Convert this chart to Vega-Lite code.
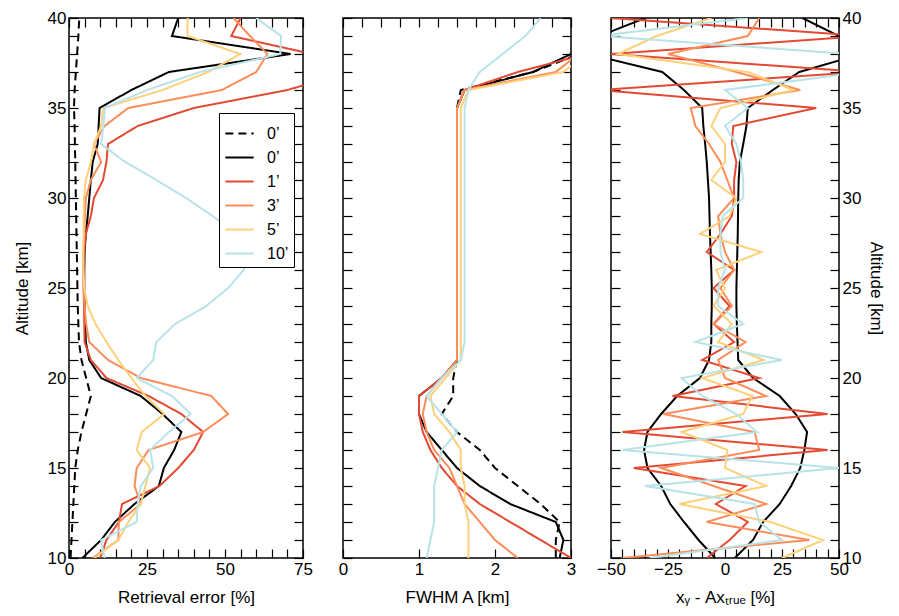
{
  "$schema": "https://vega.github.io/schema/vega-lite/v6.json",
  "padding": {"left": 12, "top": 8, "right": 2, "bottom": 2},
  "spacing": 40,
  "bounds": "flush",
  "datasets": {
    "p1": [
      {"a":10,"d":0.5,"k":4.3,"r":10,"o":7.6,"y":8.2,"b":11.4},
      {"a":11,"d":0.8,"k":10.3,"r":12,"o":15.8,"y":15.8,"b":10.3},
      {"a":12,"d":1.1,"k":14.7,"r":16,"o":16,"y":19,"b":21.7},
      {"a":13,"d":1.4,"k":21,"r":17,"o":23,"y":23,"b":22},
      {"a":14,"d":1.7,"k":28.8,"r":29,"o":21,"y":24.5,"b":23},
      {"a":15,"d":2,"k":30.4,"r":35,"o":21.7,"y":26,"b":27},
      {"a":16,"d":2.8,"k":33.7,"r":40,"o":25.5,"y":21.7,"b":26},
      {"a":17,"d":4,"k":36,"r":43,"o":43,"y":23.3,"b":32},
      {"a":18,"d":5.5,"k":30,"r":36,"o":51,"y":30.5,"b":39},
      {"a":19,"d":7,"k":23,"r":25.5,"o":45.6,"y":24.5,"b":33},
      {"a":20,"d":5.5,"k":10.3,"r":12,"o":23,"y":20,"b":21.7},
      {"a":21,"d":4,"k":6.5,"r":7,"o":12.5,"y":15.8,"b":27},
      {"a":22,"d":3.2,"k":5.4,"r":5,"o":6.5,"y":12,"b":28},
      {"a":23,"d":3,"k":5.2,"r":4.9,"o":5.5,"y":8.5,"b":34},
      {"a":24,"d":2.8,"k":5,"r":4.8,"o":5,"y":6,"b":44},
      {"a":25,"d":2.7,"k":4.9,"r":4.7,"o":4.7,"y":4.9,"b":51},
      {"a":26,"d":2.6,"k":4.9,"r":4.7,"o":4.6,"y":4.6,"b":56},
      {"a":27,"d":2.5,"k":5,"r":4.8,"o":4.6,"y":4.5,"b":57},
      {"a":28,"d":2.4,"k":5.4,"r":5.4,"o":4.9,"y":4.7,"b":54},
      {"a":29,"d":2.3,"k":6,"r":7,"o":5.1,"y":4.7,"b":46},
      {"a":30,"d":2.2,"k":6.5,"r":8,"o":5.4,"y":4.8,"b":37.5},
      {"a":31,"d":2.1,"k":7,"r":10.9,"o":7,"y":5.4,"b":28},
      {"a":32,"d":2,"k":7.6,"r":12,"o":10.3,"y":7,"b":18},
      {"a":33,"d":1.9,"k":9.2,"r":12.5,"o":8,"y":8,"b":10.3},
      {"a":34,"d":1.8,"k":9.5,"r":22,"o":11.4,"y":10.3,"b":11},
      {"a":35,"d":1.6,"k":9.8,"r":40,"o":19,"y":11,"b":11.5},
      {"a":36,"d":1.8,"k":20,"r":70,"o":49,"y":30,"b":25},
      {"a":37,"d":2.2,"k":32,"r":90,"o":60,"y":44.6,"b":42},
      {"a":38,"d":2.6,"k":71,"r":78,"o":63.6,"y":54.9,"b":67.7},
      {"a":39,"d":3,"k":33,"r":52,"o":58,"y":38,"b":68},
      {"a":40,"d":3.3,"k":35,"r":55,"o":52.7,"y":38,"b":60}
    ],
    "p2": [
      {"a":10,"d":2.8,"k":2.85,"r":3.0,"o":2.3,"y":1.65,"b":1.1},
      {"a":11,"d":2.8,"k":2.9,"r":2.6,"o":2.0,"y":1.65,"b":1.15},
      {"a":12,"d":2.85,"k":2.8,"r":2.2,"o":1.8,"y":1.65,"b":1.2},
      {"a":13,"d":2.6,"k":2.2,"r":1.8,"o":1.6,"y":1.6,"b":1.2},
      {"a":14,"d":2.3,"k":1.8,"r":1.5,"o":1.5,"y":1.6,"b":1.2},
      {"a":15,"d":2.0,"k":1.5,"r":1.3,"o":1.4,"y":1.55,"b":1.25},
      {"a":16,"d":1.8,"k":1.3,"r":1.15,"o":1.2,"y":1.55,"b":1.3},
      {"a":17,"d":1.5,"k":1.1,"r":1.05,"o":1.1,"y":1.4,"b":1.5},
      {"a":18,"d":1.3,"k":1.0,"r":1.0,"o":1.05,"y":1.2,"b":1.3},
      {"a":19,"d":1.45,"k":1.0,"r":1.0,"o":1.1,"y":1.15,"b":1.1},
      {"a":20,"d":1.45,"k":1.3,"r":1.3,"o":1.3,"y":1.35,"b":1.3},
      {"a":21,"d":1.5,"k":1.5,"r":1.5,"o":1.5,"y":1.55,"b":1.55},
      {"a":22,"d":1.5,"k":1.5,"r":1.5,"o":1.5,"y":1.55,"b":1.6},
      {"a":25,"d":1.5,"k":1.5,"r":1.5,"o":1.5,"y":1.55,"b":1.6},
      {"a":30,"d":1.5,"k":1.5,"r":1.5,"o":1.5,"y":1.55,"b":1.6},
      {"a":35,"d":1.5,"k":1.5,"r":1.5,"o":1.5,"y":1.55,"b":1.6},
      {"a":36,"d":1.55,"k":1.6,"r":1.6,"o":1.6,"y":1.65,"b":1.65},
      {"a":37,"d":2.5,"k":2.5,"r":2.3,"o":2.8,"y":2.9,"b":1.8},
      {"a":38,"d":3.1,"k":3.0,"r":3.2,"o":3.1,"y":3.2,"b":2.1},
      {"a":39,"d":3.3,"k":3.2,"r":3.4,"o":3.3,"y":3.4,"b":2.4},
      {"a":40,"d":3.4,"k":3.3,"r":3.5,"o":3.4,"y":3.5,"b":2.6}
    ],
    "p3": [
      {"a":10,"n":-4.3,"h":4.3,"r":-8,"o":-45,"y":25,"b":-33},
      {"a":11,"n":-11.6,"h":12.3,"r":2,"o":37,"y":43,"b":25},
      {"a":12,"n":-18,"h":16.7,"r":10,"o":-8,"y":20,"b":15},
      {"a":13,"n":-24,"h":24,"r":-4,"o":18,"y":-20,"b":13},
      {"a":14,"n":-28,"h":29,"r":9,"o":-5,"y":18,"b":-35},
      {"a":15,"n":-34,"h":33,"r":-40,"o":-28,"y":0,"b":50},
      {"a":16,"n":-35.5,"h":34.8,"r":45,"o":15,"y":1,"b":-45},
      {"a":17,"n":-34,"h":36,"r":-45,"o":13,"y":-19,"b":14},
      {"a":18,"n":-28,"h":31,"r":45,"o":-27,"y":8,"b":5},
      {"a":19,"n":-21,"h":24,"r":-23,"o":18,"y":12,"b":-10},
      {"a":20,"n":-11,"h":12.3,"r":15,"o":0,"y":-10,"b":-19},
      {"a":21,"n":-7,"h":5.8,"r":-10,"o":-3,"y":17,"b":25},
      {"a":22,"n":-6,"h":5.5,"r":4,"o":9,"y":-3,"b":-13},
      {"a":23,"n":-6,"h":5.2,"r":-5,"o":-5,"y":3,"b":8},
      {"a":24,"n":-5.8,"h":5,"r":2,"o":3,"y":-5,"b":-3},
      {"a":25,"n":-5.8,"h":5,"r":-5,"o":-2,"y":0,"b":-3},
      {"a":26,"n":-6,"h":5.2,"r":4,"o":4,"y":-4,"b":0},
      {"a":27,"n":-6.3,"h":5.4,"r":-8,"o":0,"y":16,"b":-2},
      {"a":28,"n":-6.6,"h":5.6,"r":-2,"o":-2,"y":-11,"b":-2},
      {"a":29,"n":-6.8,"h":5.7,"r":3,"o":-3,"y":2,"b":-1},
      {"a":30,"n":-7,"h":5.8,"r":4,"o":4,"y":5,"b":8},
      {"a":31,"n":-7.5,"h":6,"r":4,"o":1,"y":-6,"b":8},
      {"a":32,"n":-8,"h":6.5,"r":5,"o":-2,"y":0,"b":7},
      {"a":33,"n":-8.7,"h":8,"r":3,"o":-7,"y":0,"b":5},
      {"a":34,"n":-9.5,"h":9.4,"r":3.6,"o":-13,"y":-6,"b":0},
      {"a":35,"n":-10,"h":10,"r":40,"o":-15,"y":-2,"b":10},
      {"a":36,"n":-18,"h":21,"r":-55,"o":33,"y":30,"b":0},
      {"a":37,"n":-27.5,"h":32.6,"r":60,"o":5,"y":10,"b":60},
      {"a":38,"n":-60,"h":60,"r":-50,"o":-25,"y":-47,"b":55},
      {"a":39,"n":-55,"h":50,"r":60,"o":10,"y":-30,"b":-55},
      {"a":40,"n":-35,"h":34,"r":-50,"o":15,"y":-6,"b":10}
    ]
  },
  "hconcat": [
    {
      "width": 234, "height": 540,
      "data": {"name": "p1"},
      "transform": [{"fold": ["d","k","r","o","y","b"], "as": ["s","v"]}],
      "layer": [
        {
          "mark": {"type": "line", "strokeWidth": 2, "clip": true},
          "encoding": {
            "y": {"field": "a", "type": "quantitative", "scale": {"domain": [10,40], "nice": false}, "title": "Altitude [km]",
                  "axis": {"values": [10,11,12,13,14,15,16,17,18,19,20,21,22,23,24,25,26,27,28,29,30,31,32,33,34,35,36,37,38,39,40], "labelExpr": "datum.value % 5 == 0 ? datum.label : ''"}},
            "x": {"field": "v", "type": "quantitative", "scale": {"domain": [0,75], "nice": false}, "title": "Retrieval error [%]",
                  "axis": {"values": [0,5,10,15,20,25,30,35,40,45,50,55,60,65,70,75], "labelExpr": "datum.value % 25 == 0 ? datum.label : ''"}},
            "order": {"field": "a"},
            "color": {"field": "s", "type": "nominal",
              "scale": {"domain": ["d","k","r","o","y","b"], "range": ["#000000","#000000","#e34a33","#fc8d59","#fdd07a","#b8e3e8"]},
              "legend": {"orient": "none", "legendX": 150, "legendY": 95, "title": null, "symbolType": "stroke", "symbolSize": 800, "symbolStrokeWidth": 2,
                "labelExpr": "{'d':'0’','k':'0’','r':'1’','o':'3’','y':'5’','b':'10’'}[datum.label]",
                "strokeColor": "black", "padding": 5, "labelFontSize": 16, "rowPadding": 0, "fillColor": "white", "labelOffset": 12}},
            "strokeDash": {"field": "s", "type": "nominal",
              "scale": {"domain": ["d","k","r","o","y","b"], "range": [[8,5],[1,0],[1,0],[1,0],[1,0],[1,0]]}}
          }
        },
        {
          "mark": {"type": "line", "opacity": 0},
          "encoding": {
            "y": {"field": "a", "type": "quantitative", "title": null,
                  "axis": {"orient": "right", "labels": false, "values": [10,11,12,13,14,15,16,17,18,19,20,21,22,23,24,25,26,27,28,29,30,31,32,33,34,35,36,37,38,39,40]}},
            "x": {"field": "v", "type": "quantitative", "title": null,
                  "axis": {"orient": "top", "labels": false, "values": [0,5,10,15,20,25,30,35,40,45,50,55,60,65,70,75]}},
            "detail": {"field": "s"}
          }
        }
      ],
      "resolve": {"axis": {"x": "independent", "y": "independent"}}
    },
    {
      "width": 228, "height": 540,
      "data": {"name": "p2"},
      "transform": [{"fold": ["d","k","r","o","y","b"], "as": ["s","v"]}],
      "layer": [
        {
          "mark": {"type": "line", "strokeWidth": 2, "clip": true},
          "encoding": {
            "y": {"field": "a", "type": "quantitative", "scale": {"domain": [10,40], "nice": false}, "title": null,
                  "axis": {"values": [10,11,12,13,14,15,16,17,18,19,20,21,22,23,24,25,26,27,28,29,30,31,32,33,34,35,36,37,38,39,40], "labels": false}},
            "x": {"field": "v", "type": "quantitative", "scale": {"domain": [0,3], "nice": false}, "title": "FWHM A [km]",
                  "axis": {"values": [0,0.25,0.5,0.75,1,1.25,1.5,1.75,2,2.25,2.5,2.75,3], "format": "d", "labelExpr": "datum.value % 1 == 0 ? datum.label : ''"}},
            "order": {"field": "a"},
            "color": {"field": "s", "type": "nominal", "legend": null},
            "strokeDash": {"field": "s", "type": "nominal", "legend": null}
          }
        },
        {
          "mark": {"type": "line", "opacity": 0},
          "encoding": {
            "y": {"field": "a", "type": "quantitative", "title": null,
                  "axis": {"orient": "right", "labels": false, "values": [10,11,12,13,14,15,16,17,18,19,20,21,22,23,24,25,26,27,28,29,30,31,32,33,34,35,36,37,38,39,40]}},
            "x": {"field": "v", "type": "quantitative", "title": null,
                  "axis": {"orient": "top", "labels": false, "values": [0,0.25,0.5,0.75,1,1.25,1.5,1.75,2,2.25,2.5,2.75,3]}},
            "detail": {"field": "s"}
          }
        }
      ],
      "resolve": {"axis": {"x": "independent", "y": "independent"}}
    },
    {
      "width": 228, "height": 540,
      "data": {"name": "p3"},
      "layer": [
        {
          "transform": [{"fold": ["n","h"], "as": ["s","v"]}],
          "mark": {"type": "line", "strokeWidth": 2, "clip": true, "color": "black"},
          "encoding": {
            "y": {"field": "a", "type": "quantitative", "scale": {"domain": [10,40], "nice": false}, "title": "Altitude [km]",
                  "axis": {"orient": "right", "titlePadding": 6, "values": [10,11,12,13,14,15,16,17,18,19,20,21,22,23,24,25,26,27,28,29,30,31,32,33,34,35,36,37,38,39,40], "labelExpr": "datum.value % 5 == 0 ? datum.label : ''"}},
            "x": {"field": "v", "type": "quantitative", "scale": {"domain": [-50,50], "nice": false}, "title": "xᵧ - Axₜᵣᵤₑ [%]",
                  "axis": {"values": [-50,-45,-40,-35,-30,-25,-20,-15,-10,-5,0,5,10,15,20,25,30,35,40,45,50], "labelExpr": "datum.value % 25 == 0 ? datum.label : ''"}},
            "order": {"field": "a"},
            "detail": {"field": "s"}
          }
        },
        {
          "transform": [{"fold": ["r","o","y","b"], "as": ["s","v"]}],
          "mark": {"type": "line", "strokeWidth": 2, "clip": true},
          "encoding": {
            "y": {"field": "a", "type": "quantitative", "title": null,
                  "axis": {"orient": "left", "labels": false, "values": [10,11,12,13,14,15,16,17,18,19,20,21,22,23,24,25,26,27,28,29,30,31,32,33,34,35,36,37,38,39,40]}},
            "x": {"field": "v", "type": "quantitative", "title": null,
                  "axis": {"orient": "top", "labels": false, "values": [-50,-45,-40,-35,-30,-25,-20,-15,-10,-5,0,5,10,15,20,25,30,35,40,45,50]}},
            "order": {"field": "a"},
            "color": {"field": "s", "type": "nominal", "legend": null}
          }
        }
      ],
      "resolve": {"axis": {"x": "independent", "y": "independent"}}
    }
  ],
  "config": {
    "font": "Liberation Sans",
    "view": {"stroke": "black", "strokeWidth": 1.5},
    "axis": {"grid": false, "domain": false, "tickColor": "black", "tickSize": -9, "tickWidth": 1.2, "labelOverlap": false,
             "labelFontSize": 17, "titleFontSize": 17, "titleFontWeight": "normal", "labelColor": "black", "titleColor": "black", "labelPadding": 12, "labelFlush": false},
    "axisX": {"titlePadding": 12},
    "axisY": {"titlePadding": 16}
  }
}
